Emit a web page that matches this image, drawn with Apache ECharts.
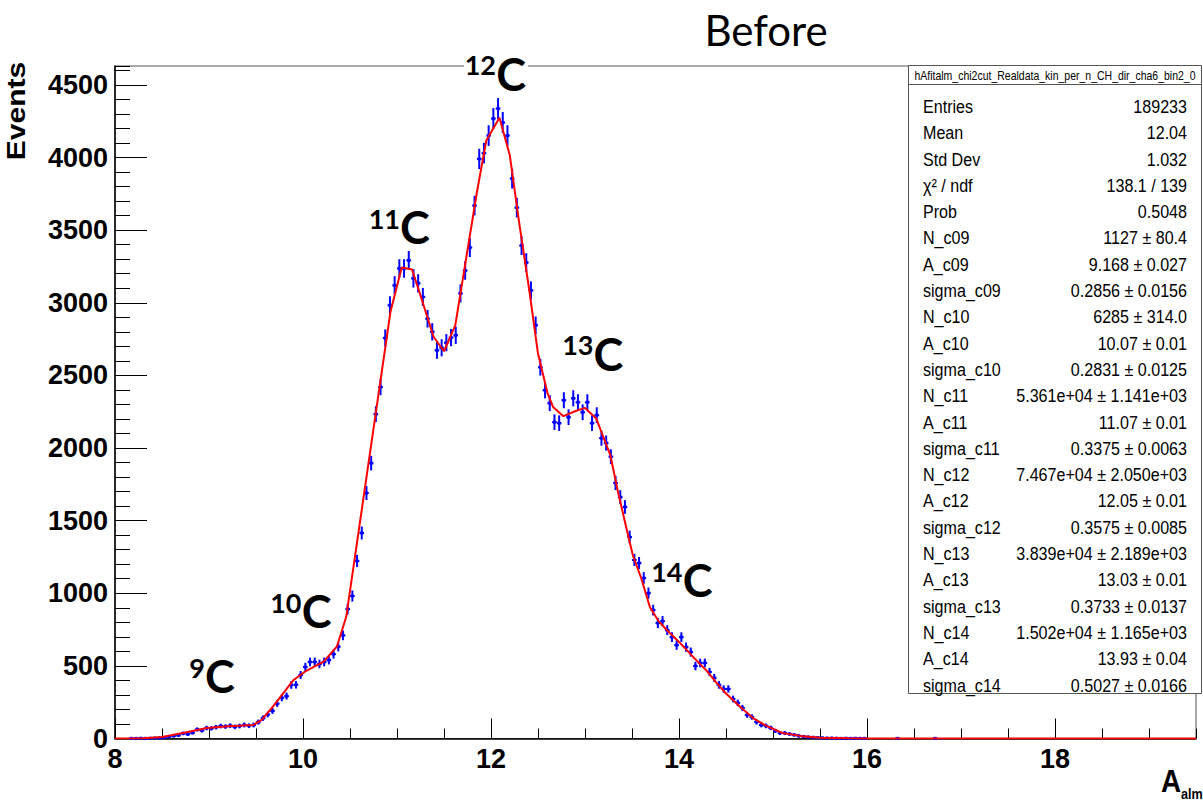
<!DOCTYPE html>
<html>
<head>
<meta charset="utf-8">
<script src="https://cdn.jsdelivr.net/npm/echarts@6/dist/echarts.min.js"></script>
<style>
  html, body { margin: 0; padding: 0; background: #ffffff; }
  #chart { width: 1203px; height: 803px; }
</style>
</head>
<body>
<div id="chart"></div>
<script>
// Histogram binning: 0.05-wide bins starting at A = 8.0
const HIST_LOW = 8.0;
const BIN_WIDTH = 0.05;

// Bin contents (null = empty bin, not drawn)
const counts = [
  null, null, null, 1, 1, 2, 1, 2, 3, 4,
  6, 12, 18, 22, 35, 30, 40, 62, 55, 72,
  70, 78, 86, 82, 88, 80, 86, 93, 88, 93,
  113, 140, 165, 190, 240, 280, 292, 368, 370, 437,
  492, 527, 527, 513, 527, 540, 581, 632, 710, 891,
  981, 1222, 1415, 1690, 1896, 2233, 2420, 2757, 2983, 3120,
  3236, 3236, 3292, 3168, 3134, 3040, 2890, 2800, 2673, 2690,
  2725, 2760, 2776, 3064, 3222, 3380, 3669, 3990, 4030, 4151,
  4268, 4337, 4241, 4151, 3855, 3655, 3394, 3277, 3085, 2845,
  2556, 2398, 2309, 2178, 2171, 2329, 2212, 2342, 2315, 2246,
  2315, 2171, 2226, 2068, 2034, 1940, 1759, 1662, 1594, 1387,
  1229, 1208, 1105, 1001, 884, 795, 808, 746, 698, 643,
  698, 629, 595, 499, 520, 520, 458, 417, 369, 341,
  341, 272, 245, 210, 162, 148, 114, 93, 87, 73,
  52, 38, 38, 31, 25, 18, 14, 10, 8, 6,
  4, 3, 3, 2, 1, 2, 1, 2, 1, 1,
  null, null, null, null, null, null, 1, null, null, null,
  null, null, null, null, 1, null, null, null, null, null
];

// Fitted sum of Gaussians, sampled along the fit range
const fitX = [8.0, 8.3, 8.5, 8.72, 8.98, 9.2, 9.47, 9.56, 9.68, 9.9,
  10.02, 10.22, 10.36, 10.46, 10.93, 11.05, 11.16, 11.25, 11.39, 11.5,
  11.62, 11.85, 11.95, 12.09, 12.2, 12.3, 12.41, 12.5, 12.6, 12.66,
  12.77, 12.9, 13.0, 13.12, 13.27, 13.35, 13.47, 13.51, 13.6, 13.69,
  13.78, 13.87, 14.0, 14.15, 14.3, 14.4, 14.5, 14.65, 14.8, 14.93,
  15.1, 15.29, 15.5, 15.8, 16.0, 19.5];
const fitY = [0, 2, 10, 38, 73, 84, 93, 128, 219, 403,
  460, 529, 632, 838, 2936, 3243, 3229, 3050, 2764, 2666,
  2844, 3761, 4117, 4273, 4015, 3550, 3074, 2650, 2380, 2283,
  2219, 2255, 2276, 2203, 1950, 1700, 1366, 1260, 1100, 905,
  810, 747, 665, 562, 462, 383, 310, 218, 135, 87,
  38, 18, 5, 1, 0, 0];

// Peak annotations (mass number, anchor in A / Events)
const peakMass = ['9', '10', '11', '12', '13', '14'];
const peakX = [9.117, 10.144, 11.191, 12.213, 13.25, 14.197];
const peakY = [437, 884, 3525, 4585, 2655, 1098];

// Fit statistics panel
const statsTitle = 'hAfitalm_chi2cut_Realdata_kin_per_n_CH_dir_cha6_bin2_0';
const statNames = ['Entries', 'Mean', 'Std Dev', 'χ² / ndf', 'Prob',
  'N_c09', 'A_c09', 'sigma_c09', 'N_c10', 'A_c10', 'sigma_c10',
  'N_c11', 'A_c11', 'sigma_c11', 'N_c12', 'A_c12', 'sigma_c12',
  'N_c13', 'A_c13', 'sigma_c13', 'N_c14', 'A_c14', 'sigma_c14'];
const statValues = ['189233', '12.04', '1.032', '138.1 / 139', '0.5048',
  '1127 ± 80.4', '9.168 ± 0.027', '0.2856 ± 0.0156',
  '6285 ± 314.0', '10.07 ± 0.01', '0.2831 ± 0.0125',
  '5.361e+04 ± 1.141e+03', '11.07 ± 0.01', '0.3375 ± 0.0063',
  '7.467e+04 ± 2.050e+03', '12.05 ± 0.01', '0.3575 ± 0.0085',
  '3.839e+04 ± 2.189e+03', '13.03 ± 0.01', '0.3733 ± 0.0137',
  '1.502e+04 ± 1.165e+03', '13.93 ± 0.04', '0.5027 ± 0.0166'];

const X_MIN = 8, X_MAX = 19.5, Y_MIN = 0, Y_MAX = 4630;

// points with statistical (sqrt N) errors
const histPoints = [];
counts.forEach((c, i) => {
  if (c === null) return;
  histPoints.push([HIST_LOW + (i + 0.5) * BIN_WIDTH, c, Math.sqrt(c)]);
});
const fitPoints = fitX.map((x, i) => [x, fitY[i]]);

const LABEL_FONT = '"Liberation Sans", Arial, sans-serif';
const BLUE = '#0000ff';

const chart = echarts.init(document.getElementById('chart'), null, { renderer: 'svg' });

const option = {
  animation: false,
  backgroundColor: '#ffffff',
  grid: {
    left: 115, right: 7, top: 66, bottom: 64.5,
    show: true, borderColor: '#555555', borderWidth: 1, backgroundColor: 'transparent'
  },
  xAxis: [
    {
      type: 'value', min: X_MIN, max: X_MAX, interval: 2,
      axisLine: { lineStyle: { color: '#000', width: 1.5 } },
      axisTick: { inside: true, length: 20, lineStyle: { color: '#000', width: 1 } },
      axisLabel: {
        color: '#000', fontSize: 27, fontWeight: 'bold', fontFamily: LABEL_FONT,
        margin: 7, showMaxLabel: false, formatter: v => String(v)
      },
      splitLine: { show: false }
    },
    {
      type: 'value', min: X_MIN, max: X_MAX, interval: 0.5, position: 'bottom',
      axisLine: { show: false },
      axisTick: { inside: true, length: 10, lineStyle: { color: '#000', width: 1 } },
      axisLabel: { show: false },
      splitLine: { show: false }
    }
  ],
  yAxis: [
    {
      type: 'value', min: Y_MIN, max: Y_MAX, interval: 500,
      axisLine: { show: true, lineStyle: { color: '#000', width: 1.5 } },
      axisTick: { show: true, inside: true, length: 32, lineStyle: { color: '#000', width: 1 } },
      axisLabel: {
        color: '#000', fontSize: 27, fontWeight: 'bold', fontFamily: LABEL_FONT,
        margin: 7, showMaxLabel: false, formatter: v => String(v)
      },
      splitLine: { show: false }
    },
    {
      type: 'value', min: Y_MIN, max: Y_MAX, interval: 100, position: 'left',
      axisLine: { show: false },
      axisTick: { show: true, inside: true, length: 15, lineStyle: { color: '#000', width: 1 } },
      axisLabel: { show: false },
      splitLine: { show: false }
    }
  ],
  series: [
    {
      type: 'custom',
      name: 'data',
      xAxisIndex: 0, yAxisIndex: 0,
      data: histPoints,
      encode: { x: 0, y: 1 },
      z: 3,
      renderItem: function (params, api) {
        const x = api.value(0), y = api.value(1), e = api.value(2);
        const c = api.coord([x, y]);
        const top = api.coord([x, y + e]);
        const bot = api.coord([x, y - e]);
        const l = api.coord([x - BIN_WIDTH / 2, y]);
        const r = api.coord([x + BIN_WIDTH / 2, y]);
        return {
          type: 'group',
          children: [
            { type: 'line', shape: { x1: c[0], y1: top[1] - 1, x2: c[0], y2: bot[1] + 1 },
              style: { stroke: BLUE, lineWidth: 2 } },
            { type: 'line', shape: { x1: l[0], y1: c[1], x2: r[0], y2: c[1] },
              style: { stroke: BLUE, lineWidth: 2 } },
            { type: 'rect', shape: { x: c[0] - 1.5, y: c[1] - 1.5, width: 3, height: 3 },
              style: { fill: BLUE } }
          ]
        };
      }
    },
    {
      type: 'line',
      name: 'fit',
      xAxisIndex: 0, yAxisIndex: 0,
      data: fitPoints,
      showSymbol: false,
      symbol: 'none',
      z: 4,
      lineStyle: { color: '#ff0000', width: 2 }
    }
  ]
};
chart.setOption(option);

// ---- annotations, titles and the statistics panel ----
const graphics = [];

graphics.push({
  type: 'text', x: 766, y: 30, z: 10,
  style: { text: 'Before', font: '42px Lato, "Open Sans", sans-serif', fill: '#000',
    align: 'center', verticalAlign: 'middle', textAlign: 'center', textVerticalAlign: 'middle' }
});

graphics.push({
  type: 'text', x: 16, y: 111, rotation: Math.PI / 2, scaleY: 0.87, z: 10,
  style: { text: 'Events', font: 'bold 30px "Liberation Sans", Arial, sans-serif', fill: '#000',
    lineHeight: 24,
    align: 'center', verticalAlign: 'middle', textAlign: 'center', textVerticalAlign: 'middle' }
});

graphics.push({
  type: 'text', x: 1181, y: 797, scaleX: 0.87, z: 10,
  style: { text: 'A', font: 'bold 32px "Liberation Sans", Arial, sans-serif', fill: '#000',
    lineHeight: 32,
    align: 'right', verticalAlign: 'bottom', textAlign: 'right', textVerticalAlign: 'bottom' }
});
graphics.push({
  type: 'text', x: 1181, y: 802, scaleX: 0.87, z: 10,
  style: { text: 'alm', font: 'bold 14.5px "Liberation Sans", Arial, sans-serif', fill: '#000',
    lineHeight: 15,
    align: 'left', verticalAlign: 'bottom', textAlign: 'left', textVerticalAlign: 'bottom' }
});

peakMass.forEach((m, i) => {
  const p = chart.convertToPixel({ xAxisIndex: 0, yAxisIndex: 0 }, [peakX[i], peakY[i]]);
  const supW = m.length === 1 ? 14 : 28;
  graphics.push({
    type: 'group', x: p[0], y: p[1], z: 20,
    children: [
      { type: 'rect', shape: { x: -16 - supW - 3, y: -22, width: supW + 36, height: 42 },
        style: { fill: '#ffffff' } },
      { type: 'text', x: 0, y: 1,
        style: { text: 'C', font: 'bold 45px Lato, "Open Sans", sans-serif', fill: '#000',
          align: 'center', verticalAlign: 'middle', textAlign: 'center', textVerticalAlign: 'middle' } },
      { type: 'text', x: -15, y: -8,
        style: { text: m, font: 'bold 27px Lato, "Open Sans", sans-serif', fill: '#000',
          align: 'right', verticalAlign: 'middle', textAlign: 'right', textVerticalAlign: 'middle' } }
    ]
  });
});

// statistics box
const boxL = 908.5, boxR = 1201.5, boxT = 65.5, boxB = 693.5;
graphics.push({
  type: 'rect', z: 30,
  shape: { x: boxL, y: boxT, width: boxR - boxL, height: boxB - boxT },
  style: { fill: '#ffffff', stroke: '#555555', lineWidth: 1 }
});
graphics.push({
  type: 'line', z: 31,
  shape: { x1: boxL, y1: 84.5, x2: boxR, y2: 84.5 },
  style: { stroke: '#555555', lineWidth: 1 }
});
graphics.push({
  type: 'text', x: (boxL + boxR) / 2, y: 75.5, scaleX: 0.84, z: 31,
  style: { text: statsTitle, font: '12.5px "Liberation Sans", Arial, sans-serif', fill: '#000',
    align: 'center', verticalAlign: 'middle', textAlign: 'center', textVerticalAlign: 'middle' }
});
statNames.forEach((name, i) => {
  const y = 106.5 + i * 26.3;
  graphics.push({
    type: 'text', x: 923, y: y, scaleX: 0.87, z: 31,
    style: { text: name, font: '18.5px "Liberation Sans", Arial, sans-serif', fill: '#000',
      align: 'left', verticalAlign: 'middle', textAlign: 'left', textVerticalAlign: 'middle' }
  });
  graphics.push({
    type: 'text', x: 1187, y: y, scaleX: 0.87, z: 31,
    style: { text: statValues[i], font: '18.5px "Liberation Sans", Arial, sans-serif', fill: '#000',
      align: 'right', verticalAlign: 'middle', textAlign: 'right', textVerticalAlign: 'middle' }
  });
});

chart.setOption({ graphic: { elements: graphics } });
</script>
</body>
</html>
